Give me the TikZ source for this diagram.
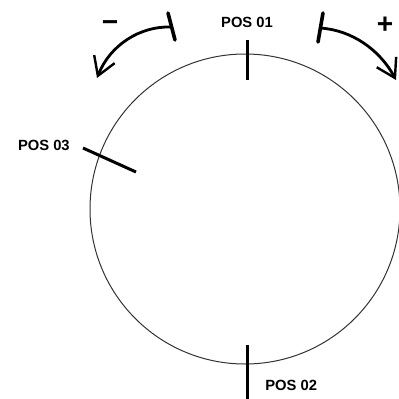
\documentclass[tikz,border=0pt]{standalone}
\usepackage{fontspec}
\setmainfont{Liberation Sans}
\usetikzlibrary{arrows.meta}
\begin{document}
\begin{tikzpicture}[x=0.25mm,y=-0.25mm,
  lbl/.style={font=\fontsize{10.5}{12}\selectfont\bfseries, inner sep=0pt},
  sign/.style={font=\fontsize{20}{22}\selectfont\bfseries, inner sep=0pt},
  tick/.style={line width=0.75mm, black},
  turn/.style={line width=0.7mm, black, line cap=round, -{Straight Barb[length=4.5mm,width=5.5mm,line width=0.6mm]}},
  tee/.style={line width=0.9mm, black, line cap=round}]
\useasboundingbox (0,0) rectangle (399,399);
\draw[line width=0.25mm, black!80] (245,209) circle (155);
% ticks
\coordinate (t1a) at (247,40); \coordinate (t1b) at (247,80);
\draw[tick] (t1a) -- (t1b);
\coordinate (t2a) at (247,345); \coordinate (t2b) at (247,399);
\draw[tick] (t2a) -- (t2b);
\coordinate (t3a) at (83,148); \coordinate (t3b) at (136,172);
\draw[tick] (t3a) -- (t3b);
% labels
\node[lbl] (p1) at (247,22) {POS 01};
\node[lbl,anchor=west] (p2) at (265,385) {POS 02};
\node[lbl,anchor=east] (p3) at (70,145) {POS 03};
\node[sign] (minus) at (110,26) {−};
\node[sign] (plus) at (385,25) {+};
% minus arrow
\coordinate (m0) at (171,27); \coordinate (m1) at (97,78);
\draw[tee] (168,13) -- (175,40);
\draw[turn] (m0) .. controls (140,26) and (110,45) .. (m1);
% plus arrow
\coordinate (q0) at (320,28); \coordinate (q1) at (396,80);
\draw[tee] (323,13) -- (318,42);
\draw[turn] (q0) .. controls (352,30) and (380,50) .. (q1);
\end{tikzpicture}
\end{document}
